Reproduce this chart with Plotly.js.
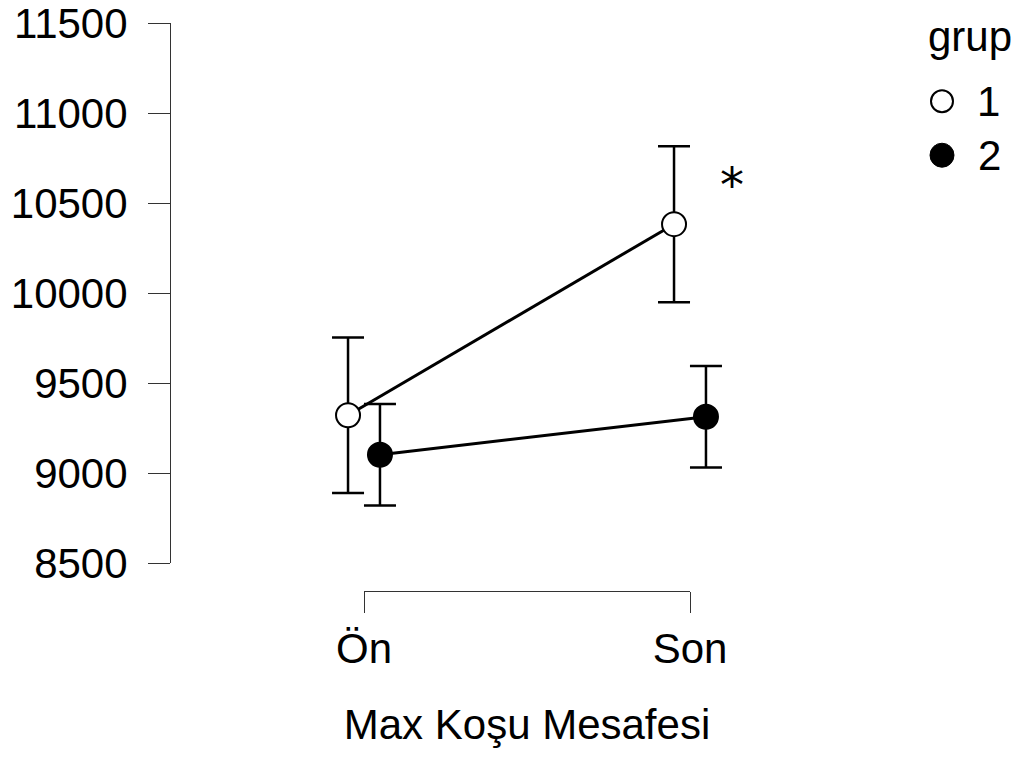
<!DOCTYPE html>
<html>
<head>
<meta charset="utf-8">
<script src="https://cdn.plot.ly/plotly-3.0.1.min.js"></script>
<style>html,body{margin:0;padding:0;background:#fff;}</style>
</head>
<body>
<div id="chart" style="width:1031px;height:758px;"></div>
<script>
// ---- data ----
const categories = ['Ön', 'Son'];
const groupNames = ['1', '2'];
const grup1Mean = [9322, 10383];
const grup1Err  = [432, 433];
const grup2Mean = [9103, 9314];
const grup2Err  = [282, 282];
const yTickVals = [8500, 9000, 9500, 10000, 10500, 11000, 11500];
const xTitle = 'Max Koşu Mesafesi';
const legendTitle = 'grup';
const sigMark = '*';

// ---- styles ----
const FONT = 'Liberation Sans, Arial, Helvetica, sans-serif';
const FS = 42;
const dodge = 0.049;
const idx = categories.map((c, i) => i);

function trace(mean, err, off, fill, name) {
  return {
    type: 'scatter', mode: 'lines+markers', name: name,
    x: idx.map(i => i + off), y: mean,
    line: {color: '#000', width: 3},
    marker: {size: 24, color: fill, line: {color: '#000', width: 2}},
    error_y: {type: 'data', array: err, visible: true, color: '#000', thickness: 2.5, width: 16},
    cliponaxis: false, showlegend: false, hoverinfo: 'skip'
  };
}

const data = [
  trace(grup1Mean, grup1Err, -dodge, '#ffffff', groupNames[0]),
  trace(grup2Mean, grup2Err, dodge, '#000000', groupNames[1]),
  // carrier for the category (bracket) axis
  {type: 'scatter', mode: 'markers', x: idx, y: idx.map(() => null),
   xaxis: 'x2', yaxis: 'y', showlegend: false, hoverinfo: 'skip'}
];

const plotL = 170, plotR = 870, plotW = plotR - plotL;
const plotH = 758 - 22.7 - 167;
const pxPerCat = 690 - 364;
const layout = {
  width: 1031, height: 758,
  margin: {l: plotL, r: 1031 - plotR, t: 22.7, b: 167},
  paper_bgcolor: '#fff', plot_bgcolor: 'rgba(0,0,0,0)',
  font: {family: FONT, size: FS, color: '#000'},
  showlegend: false,
  xaxis: {
    domain: [0, 1],
    range: [-(364 - plotL) / pxPerCat, 1 + (plotR - 690) / pxPerCat],
    visible: false, showgrid: false, zeroline: false
  },
  xaxis2: {
    domain: [(364 - plotL) / plotW, (690 - plotL) / plotW],
    range: [0, 1], anchor: 'free', position: 0,
    tickmode: 'array', tickvals: idx, ticktext: categories,
    showline: true, linecolor: '#333', linewidth: 1,
    ticks: 'outside', ticklen: 21, tickcolor: '#333', tickwidth: 1,
    ticklabeloverflow: 'allow',
    showgrid: false, zeroline: false,
    tickfont: {size: FS},
    title: {text: xTitle, font: {size: FS}, standoff: 38}
  },
  yaxis: {
    domain: [(591 - 563.3) / plotH, 1],
    range: [yTickVals[0], yTickVals[yTickVals.length - 1]],
    anchor: 'free', position: 0,
    tickmode: 'array', tickvals: yTickVals, tickformat: 'd',
    showline: true, linecolor: '#333', linewidth: 1,
    ticks: 'outside', ticklen: 22, tickcolor: '#333', tickwidth: 1,
    ticklabelstandoff: 12, ticklabeloverflow: 'allow',
    showgrid: false, zeroline: false,
    tickfont: {size: FS}
  },
  annotations: [
    {xref: 'paper', yref: 'y', x: (732 - plotL) / plotW, y: 10600, text: sigMark,
     showarrow: false, font: {size: 48, family: 'DejaVu Sans, sans-serif'}, xanchor: 'center', yanchor: 'middle'},
    {xref: 'paper', yref: 'paper', x: (970 - plotL) / plotW, y: (591 - 36) / plotH, text: legendTitle,
     showarrow: false, font: {size: FS}, xanchor: 'center', yanchor: 'middle'},
    {xref: 'paper', yref: 'paper', x: (988 - plotL) / plotW, y: (591 - 101) / plotH, text: groupNames[0],
     showarrow: false, font: {size: FS}, xanchor: 'center', yanchor: 'middle'},
    {xref: 'paper', yref: 'paper', x: (989 - plotL) / plotW, y: (591 - 155) / plotH, text: groupNames[1],
     showarrow: false, font: {size: FS}, xanchor: 'center', yanchor: 'middle'}
  ],
  shapes: [
    {type: 'circle', xref: 'paper', yref: 'paper', xsizemode: 'pixel', ysizemode: 'pixel',
     xanchor: (942 - plotL) / plotW, yanchor: (591 - 101) / plotH, x0: -11, x1: 11, y0: -11, y1: 11,
     line: {color: '#000', width: 2}, fillcolor: '#fff'},
    {type: 'circle', xref: 'paper', yref: 'paper', xsizemode: 'pixel', ysizemode: 'pixel',
     xanchor: (942 - plotL) / plotW, yanchor: (591 - 155) / plotH, x0: -12, x1: 12, y0: -12, y1: 12,
     line: {color: '#000', width: 1}, fillcolor: '#000'}
  ]
};

Plotly.newPlot('chart', data, layout, {displayModeBar: false, staticPlot: true});
</script>
</body>
</html>
